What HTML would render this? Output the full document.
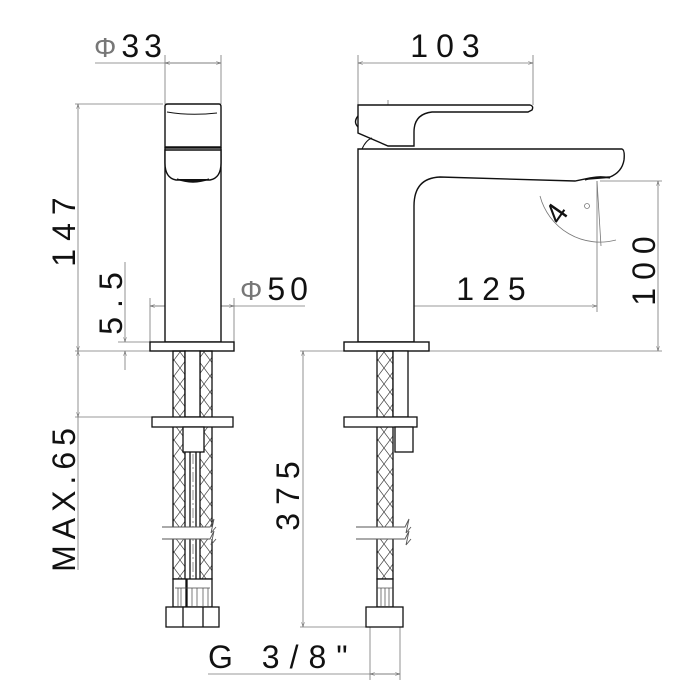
<!DOCTYPE html>
<html><head><meta charset="utf-8"><style>
html,body{margin:0;padding:0;background:#fff;}
svg{display:block;}
text{font-family:"Liberation Sans",sans-serif;fill:#111;}
</style></head><body>
<svg width="700" height="700" viewBox="0 0 700 700" xmlns="http://www.w3.org/2000/svg">
<defs>
<pattern id="x" width="12" height="16" patternUnits="userSpaceOnUse">
<path d="M0 0L12 16M12 0L0 16" stroke="#444" stroke-width="0.7" fill="none"/>
</pattern>
<marker id="a" viewBox="0 0 10 10" refX="10" refY="5" markerWidth="8" markerHeight="6" orient="auto-start-reverse">
<path d="M0 2L10 5L0 8" fill="none" stroke="#666" stroke-width="1"/>
</marker>
</defs>
<g stroke="#777" stroke-width="0.8" fill="none">
<line x1="95" y1="63" x2="221" y2="63"/>
<line x1="165" y1="63" x2="221" y2="63" marker-start="url(#a)" marker-end="url(#a)"/>
<line x1="165" y1="55" x2="165" y2="104"/>
<line x1="221" y1="55" x2="221" y2="104"/>
<line x1="75" y1="104" x2="163" y2="104"/>
<line x1="78" y1="104" x2="78" y2="351" marker-start="url(#a)" marker-end="url(#a)"/>
<line x1="125" y1="262" x2="125" y2="342" marker-end="url(#a)"/>
<line x1="125" y1="351" x2="125" y2="370" marker-start="url(#a)"/>
<line x1="118" y1="342" x2="150" y2="342"/>
<line x1="150" y1="306" x2="305" y2="306"/>
<line x1="150" y1="306" x2="234" y2="306" marker-start="url(#a)" marker-end="url(#a)"/>
<line x1="150" y1="298" x2="150" y2="342"/>
<line x1="234" y1="298" x2="234" y2="342"/>
<line x1="75" y1="351" x2="150" y2="351"/>
<line x1="75" y1="417" x2="152" y2="417"/>
<line x1="78" y1="351" x2="78" y2="417" marker-start="url(#a)" marker-end="url(#a)"/>
<line x1="78" y1="417" x2="78" y2="570"/>
<line x1="358" y1="55" x2="358" y2="105"/>
<line x1="533" y1="55" x2="533" y2="105"/>
<line x1="358" y1="63" x2="533" y2="63" marker-start="url(#a)" marker-end="url(#a)"/>
<line x1="388" y1="306" x2="597" y2="306" marker-start="url(#a)" marker-end="url(#a)"/>
<line x1="597" y1="181" x2="597" y2="312"/>
<line x1="600" y1="181" x2="662" y2="181"/>
<line x1="300" y1="351" x2="662" y2="351"/>
<line x1="658" y1="181" x2="658" y2="351" marker-start="url(#a)" marker-end="url(#a)"/>
<path d="M540 196 A62 62 0 0 0 616 240"/>
<line x1="597" y1="181" x2="601" y2="246"/>
<line x1="303" y1="351" x2="303" y2="627" marker-start="url(#a)" marker-end="url(#a)"/>
<line x1="300" y1="627" x2="366" y2="627"/>
<line x1="370" y1="627" x2="370" y2="680"/>
<line x1="400" y1="627" x2="400" y2="680"/>
<line x1="208" y1="674" x2="400" y2="674"/>
<line x1="370" y1="674" x2="400" y2="674" marker-start="url(#a)" marker-end="url(#a)"/>
<line x1="193" y1="130" x2="193" y2="600" stroke-dasharray="10 3 2 3"/>
<line x1="388" y1="100" x2="388" y2="351" stroke-dasharray="10 3 2 3"/>
<path d="M390 132 Q405 118 428 113"/>
<path d="M390 207 Q405 186 437 177"/>
</g>
<g stroke="#111" stroke-width="1.4" fill="#fff">
<path d="M165 147 V106 Q165 104 168 104 H219 Q221 104 221 107 V147 Z"/>
<path d="M167 112 Q190 116 217 113" fill="none" stroke-width="1"/>
<rect x="165" y="148" width="56" height="194"/>
<path d="M165 150 H221 V163 Q221 178 210 180 H176 Q165 178 165 163 Z"/>
<path d="M177 179 Q193 185 209 179" fill="#111"/>
<rect x="150" y="342" width="84" height="9"/>
<path d="M358 105 H530 Q534 106 532 110 L528 112 H432 Q414 114 414 132 V146 H388 L358 133 Z"/>
<path d="M358 116 Q353 122 358 127" fill="none"/>
<path d="M362 149 Q366 140 372 138" fill="none" stroke-width="1"/>
<path d="M358 149 H622 Q625 150 624 160 Q622 172 610 177 L590 178 L575 181 L440 177 Q414 178 414 206 V342 H358 Z"/>
<path d="M585 180 Q597 175 610 178" fill="#111"/>
<rect x="344" y="342" width="85" height="9"/>
</g>
<g stroke="#111" stroke-width="1.3">
<rect x="173" y="351" width="12" height="228" fill="url(#x)"/>
<rect x="200" y="351" width="12" height="228" fill="url(#x)"/>
<rect x="185" y="351" width="15" height="66" fill="#fff"/>
<line x1="190" y1="452" x2="190" y2="579"/><line x1="196" y1="452" x2="196" y2="579"/>
<rect x="152" y="417" width="81" height="10" fill="#fff"/>
<rect x="183" y="427" width="21" height="25" fill="#fff"/>
<rect x="173" y="579" width="13" height="28" fill="#fff"/>
<rect x="187" y="579" width="25" height="28" fill="#fff"/>
<rect x="166" y="607" width="53" height="20" fill="#fff"/>
<line x1="183" y1="607" x2="183" y2="627"/><line x1="203" y1="607" x2="203" y2="627"/>
<rect x="377" y="351" width="16" height="228" fill="url(#x)"/>
<rect x="393" y="351" width="15" height="66" fill="#fff"/>
<rect x="344" y="417" width="73" height="10" fill="#fff"/>
<rect x="395" y="427" width="18" height="25" fill="#fff"/>
<rect x="377" y="579" width="16" height="28" fill="#fff"/>
<rect x="366" y="607" width="37" height="20" fill="#fff"/>
</g>
<g stroke="#444" stroke-width="0.7">
<line x1="175" y1="588" x2="210" y2="588"/>
<line x1="178" y1="588" x2="178" y2="607"/><line x1="181" y1="588" x2="181" y2="607"/>
<line x1="192" y1="588" x2="192" y2="607"/><line x1="197" y1="588" x2="197" y2="607"/><line x1="203" y1="588" x2="203" y2="607"/><line x1="208" y1="588" x2="208" y2="607"/>
<line x1="377" y1="588" x2="393" y2="588"/>
<line x1="381" y1="588" x2="381" y2="607"/><line x1="385" y1="588" x2="385" y2="607"/><line x1="389" y1="588" x2="389" y2="607"/>
</g>
<g fill="#fff" stroke="none"><rect x="160" y="527" width="60" height="12"/><rect x="355" y="527" width="60" height="12"/></g>
<g stroke="#555" stroke-width="0.9" fill="none">
<path d="M162 527 H210 L214 519 L211 533 L216 527"/>
<path d="M162 539 H210 L214 531 L211 545 L216 539"/>
<path d="M356 527 H405 L409 519 L406 533 L411 527"/>
<path d="M356 539 H405 L409 531 L406 545 L411 539"/>
</g>
<g font-size="32">
<text x="94" y="57" letter-spacing="5"><tspan fill="#777" font-size="28">Φ</tspan>33</text>
<text x="449" y="57" text-anchor="middle" letter-spacing="8">103</text>
<text x="240" y="300" letter-spacing="5"><tspan fill="#777" font-size="28">Φ</tspan>50</text>
<text x="495" y="300" text-anchor="middle" letter-spacing="8">125</text>
<text transform="translate(75,228) rotate(-90)" text-anchor="middle" letter-spacing="8">147</text>
<text transform="translate(122,299) rotate(-90)" text-anchor="middle" letter-spacing="9">5.5</text>
<text transform="translate(75,497) rotate(-90)" text-anchor="middle" letter-spacing="6">MAX.65</text>
<text transform="translate(299,492) rotate(-90)" text-anchor="middle" letter-spacing="8">375</text>
<text transform="translate(655,267) rotate(-90)" text-anchor="middle" letter-spacing="8">100</text>
<text transform="translate(560,226) rotate(-55)" font-size="30">4</text>
<text x="208" y="668" letter-spacing="10">G 3/8"</text>
</g>
<circle cx="587" cy="206" r="2.5" fill="none" stroke="#777" stroke-width="0.8"/>
</svg>
</body></html>
